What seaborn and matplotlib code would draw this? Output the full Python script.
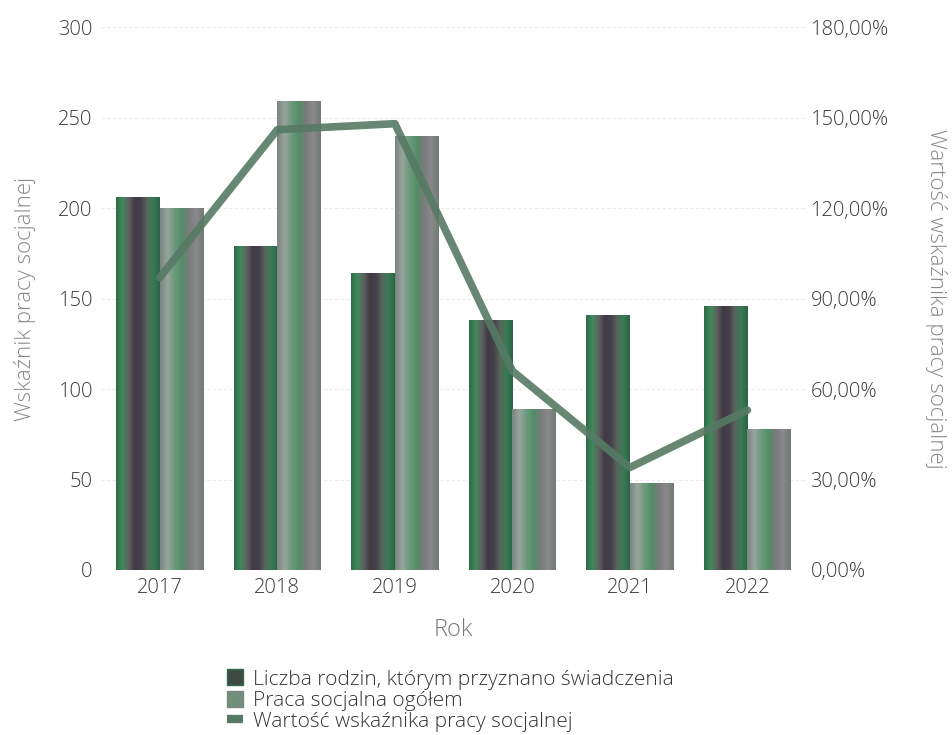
import numpy as np
import pandas as pd
import matplotlib
matplotlib.use("Agg")
import matplotlib.pyplot as plt
import seaborn as sns
from matplotlib.colors import LinearSegmentedColormap
from matplotlib.patches import Patch
from matplotlib.lines import Line2D
from matplotlib.ticker import FuncFormatter

years = ["2017", "2018", "2019", "2020", "2021", "2022"]
families = [206, 179, 164, 138, 141, 146]          # Liczba rodzin, którym przyznano świadczenia
social_work = [200, 259, 240, 89, 48, 78]          # Praca socjalna ogółem
indicator_pct = [97, 146, 148, 66, 34, 53]         # Wartość wskaźnika pracy socjalnej (%)

s1 = "Liczba rodzin, którym przyznano świadczenia"
s2 = "Praca socjalna ogółem"
s3 = "Wartość wskaźnika pracy socjalnej"

df = pd.DataFrame({
    "Rok": years * 2,
    "val": families + social_work,
    "series": [s1] * len(years) + [s2] * len(years),
})

sns.set_theme(style="white")
plt.rcParams["font.family"] = ["Open Sans", "DejaVu Sans"]

fig = plt.figure(figsize=(9.53, 7.35), dpi=100)
ax = fig.add_axes([0.106, 0.2245, 0.74, 0.7385])

sns.barplot(data=df, x="Rok", y="val", hue="series", order=years,
            hue_order=[s1, s2], palette=["#4a4a4c", "#6f8f7a"],
            width=0.74, ax=ax, legend=False, saturation=1)

cm_dark = LinearSegmentedColormap.from_list(
    "dark", ["#2f6c48", "#3f8a5c", "#5e625f", "#403a45", "#45404a", "#58665c", "#387c55", "#2c6445"])
cm_light = LinearSegmentedColormap.from_list(
    "light", ["#7c8580", "#98a59d", "#6a9a7a", "#538c67", "#7a7b7d", "#8a888c", "#707b74"])

grad = np.linspace(0, 1, 64).reshape(1, -1)
bars = [p for p in ax.patches if p.get_height() > 0]
n = len(years)
for i, p in enumerate(bars):
    x0, w, h = p.get_x(), p.get_width(), p.get_height()
    cmap = cm_dark if i < n else cm_light
    im = ax.imshow(grad, extent=[x0, x0 + w, 0, h], aspect="auto",
                   cmap=cmap, zorder=2, interpolation="bilinear")
    im.set_clip_path(p)
    p.set_facecolor("none")
    p.set_edgecolor("none")

tick_kw = dict(labelsize=14.5, labelcolor="#3a3a3a")
ax.set_xlim(-0.5, 5.5)
ax.set_ylim(0, 300)
ax.set_yticks(np.arange(0, 301, 50))
ax.grid(axis="y", color="#ececec", linewidth=0.8, linestyle=(0, (3, 2)))
ax.set_axisbelow(True)
for s in ax.spines.values():
    s.set_visible(False)
ax.tick_params(axis="both", length=0, pad=6, **tick_kw)
for t in ax.get_xticklabels() + ax.get_yticklabels():
    t.set_fontweight("light")
ax.set_xlabel("Rok", fontsize=17, color="#777777", labelpad=14, fontweight="light")
ax.set_ylabel("Wskaźnik pracy socjalnej", fontsize=16, color="#888888", labelpad=16,
              fontweight="light")

ax2 = ax.twinx()
ax2.set_position(ax.get_position())
sns.lineplot(x=np.arange(len(years)), y=indicator_pct, ax=ax2,
             color="#567a64", linewidth=5.5, alpha=0.9, legend=False)
ax2.set_ylim(0, 180)
ax2.set_yticks(np.arange(0, 181, 30))
ax2.yaxis.set_major_formatter(FuncFormatter(lambda v, _: f"{v:.2f}%".replace(".", ",")))
for s in ax2.spines.values():
    s.set_visible(False)
ax2.tick_params(axis="y", length=0, pad=3, **tick_kw)
for t in ax2.get_yticklabels():
    t.set_fontweight("light")
ax2.set_ylabel("Wartość wskaźnika pracy socjalnej", fontsize=16, color="#888888",
               rotation=270, labelpad=42, fontweight="light")
ax2.set_xlim(-0.5, 5.5)

handles = [
    Patch(facecolor="#3f4a44", edgecolor="#2f6c48"),
    Patch(facecolor="#6f8f7a", edgecolor="#7c8580"),
    Line2D([0], [0], color="#567a64", linewidth=6, solid_capstyle="butt"),
]
fig.legend(handles, [s1, s2, s3], loc="upper left",
           bbox_to_anchor=(0.229, 1 - 661 / 735), frameon=False,
           prop={"size": 15, "weight": "light"}, labelcolor="#333333",
           handlelength=0.8, handleheight=0.8,
           handletextpad=0.45, labelspacing=0.05, borderaxespad=0)

fig.savefig("out.png", dpi=100)
